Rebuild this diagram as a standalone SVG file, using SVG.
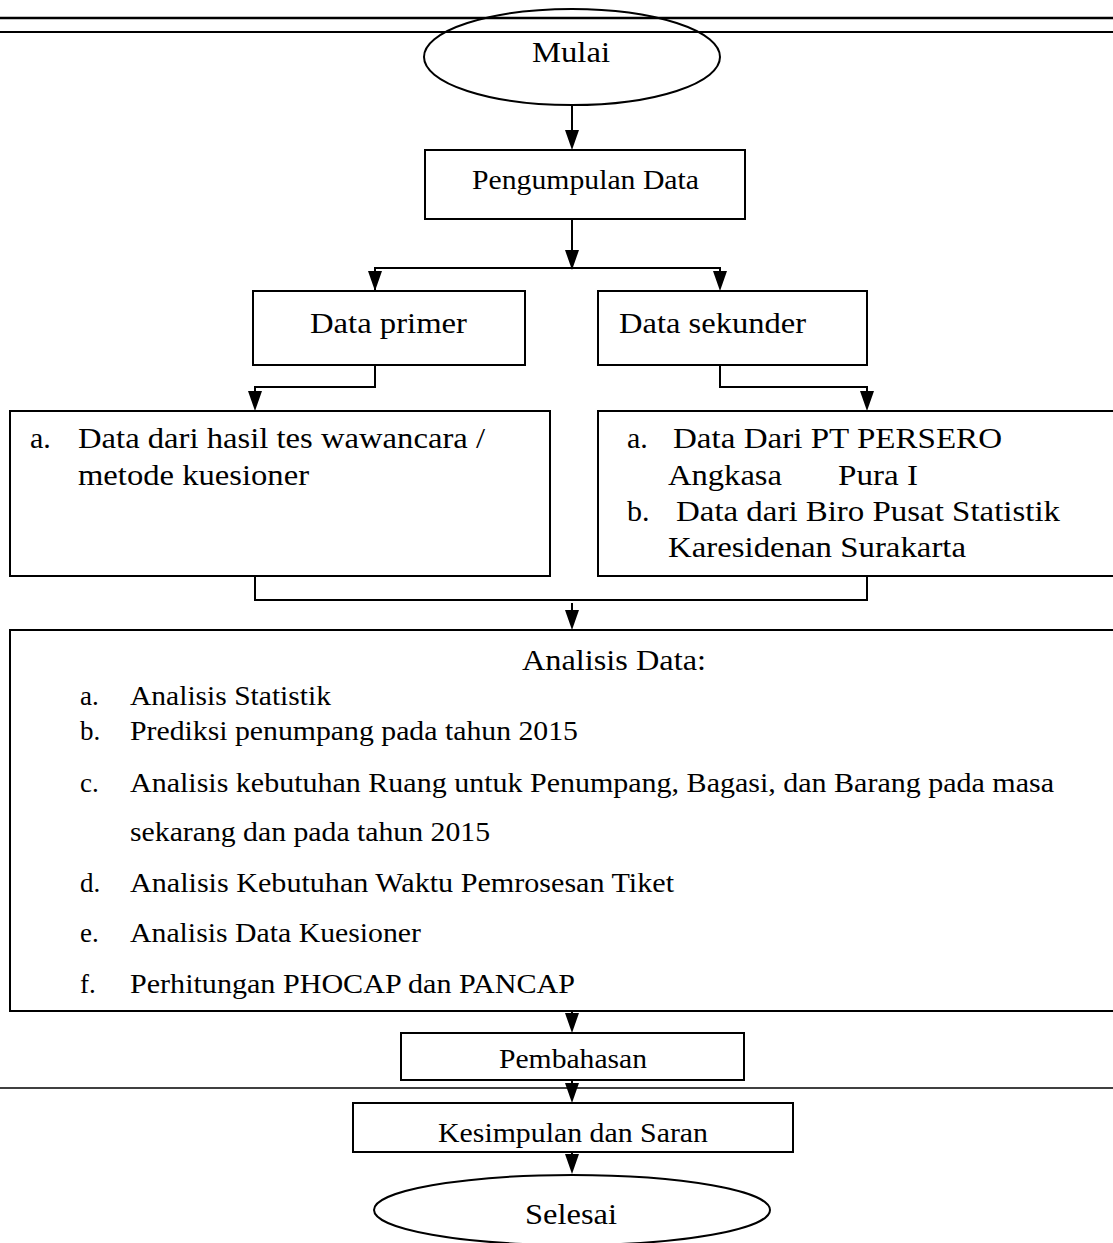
<svg xmlns="http://www.w3.org/2000/svg" width="1113" height="1243" viewBox="0 0 1113 1243">
<style>
  .box{fill:none;stroke:#000;stroke-width:2}
  .ln{fill:none;stroke:#000;stroke-width:2}
  .ah{fill:#000}
  .t{font-family:"Liberation Serif","Times New Roman",serif;font-size:30px;fill:#000}
  .s{font-family:"Liberation Serif","Times New Roman",serif;font-size:27px;fill:#000}
</style>
<rect width="1113" height="1243" fill="#fff"/>
<g id="rules">
  <line x1="0" y1="18" x2="1113" y2="18" stroke="#000" stroke-width="2.5"/>
  <line x1="0" y1="32" x2="1113" y2="32" stroke="#000" stroke-width="2"/>
  <line x1="0" y1="1088" x2="1113" y2="1088" stroke="#000" stroke-width="1.5"/>
</g>
<g id="connectors">
  <path class="ln" d="M572,105 V132"/>
  <path class="ah" d="M565,130 L579,130 L572,150 Z"/>
  <path class="ln" d="M572,219 V252"/>
  <path class="ah" d="M565,250 L579,250 L572,270 Z"/>
  <path class="ln" d="M375,290 V268 H720 V274"/>
  <path class="ah" d="M368,271 L382,271 L375,291 Z"/>
  <path class="ah" d="M713,271 L727,271 L720,291 Z"/>
  <path class="ln" d="M375,365 V387 H255 V394"/>
  <path class="ah" d="M248,391 L262,391 L255,411 Z"/>
  <path class="ln" d="M720,365 V387 H867 V394"/>
  <path class="ah" d="M860,391 L874,391 L867,411 Z"/>
  <path class="ln" d="M255,576 V600 H867 V576"/>
  <path class="ln" d="M572,603 V614"/>
  <path class="ah" d="M565,610 L579,610 L572,630 Z"/>
  <path class="ln" d="M572,1011 V1016"/>
  <path class="ah" d="M565,1013 L579,1013 L572,1033 Z"/>
  <path class="ln" d="M572,1080 V1086"/>
  <path class="ah" d="M565,1083 L579,1083 L572,1103 Z"/>
  <path class="ln" d="M572,1152 V1157"/>
  <path class="ah" d="M565,1154 L579,1154 L572,1174 Z"/>
</g>
<g id="mulai">
  <ellipse cx="572" cy="57" rx="148" ry="48" fill="none" stroke="#000" stroke-width="2"/>
  <text class="t" x="532" y="62" textLength="78" lengthAdjust="spacingAndGlyphs">Mulai</text>
</g>
<g id="pengumpulan">
  <rect class="box" x="425" y="150" width="320" height="69"/>
  <text class="s" x="472" y="189" textLength="227" lengthAdjust="spacingAndGlyphs">Pengumpulan Data</text>
</g>
<g id="primer">
  <rect class="box" x="253" y="291" width="272" height="74"/>
  <text class="t" x="310" y="333" textLength="157" lengthAdjust="spacingAndGlyphs">Data primer</text>
</g>
<g id="sekunder">
  <rect class="box" x="598" y="291" width="269" height="74"/>
  <text class="t" x="619" y="333" textLength="187" lengthAdjust="spacingAndGlyphs">Data sekunder</text>
</g>
<g id="primer-detail">
  <rect class="box" x="10" y="411" width="540" height="165"/>
  <text class="t" x="30" y="448">a.</text>
  <text class="t" x="78" y="448" textLength="407" lengthAdjust="spacingAndGlyphs">Data dari hasil tes wawancara /</text>
  <text class="t" x="78" y="485" textLength="231" lengthAdjust="spacingAndGlyphs">metode kuesioner</text>
</g>
<g id="sekunder-detail">
  <path class="box" d="M1113,411 H598 V576 H1113"/>
  <text class="t" x="627" y="448">a.</text>
  <text class="t" x="673" y="448" textLength="329" lengthAdjust="spacingAndGlyphs">Data Dari PT PERSERO</text>
  <text class="t" x="668" y="485" textLength="114" lengthAdjust="spacingAndGlyphs">Angkasa</text>
  <text class="t" x="838" y="485" textLength="80" lengthAdjust="spacingAndGlyphs">Pura I</text>
  <text class="t" x="627" y="521">b.</text>
  <text class="t" x="676" y="521" textLength="384" lengthAdjust="spacingAndGlyphs">Data dari Biro Pusat Statistik</text>
  <text class="t" x="668" y="557" textLength="298" lengthAdjust="spacingAndGlyphs">Karesidenan Surakarta</text>
</g>
<g id="analisis">
  <path class="box" d="M1113,630 H10 V1011 H1113"/>
  <text class="t" x="522" y="670" textLength="184" lengthAdjust="spacingAndGlyphs">Analisis Data:</text>
  <text class="s" x="80" y="705">a.</text>
  <text class="s" x="130" y="705" textLength="201" lengthAdjust="spacingAndGlyphs">Analisis Statistik</text>
  <text class="s" x="80" y="740">b.</text>
  <text class="s" x="130" y="740" textLength="448" lengthAdjust="spacingAndGlyphs">Prediksi penumpang pada tahun 2015</text>
  <text class="s" x="80" y="792">c.</text>
  <text class="s" x="130" y="792" textLength="924" lengthAdjust="spacingAndGlyphs">Analisis kebutuhan Ruang untuk Penumpang, Bagasi, dan Barang pada masa</text>
  <text class="s" x="130" y="841" textLength="360" lengthAdjust="spacingAndGlyphs">sekarang dan pada tahun 2015</text>
  <text class="s" x="80" y="892">d.</text>
  <text class="s" x="130" y="892" textLength="544" lengthAdjust="spacingAndGlyphs">Analisis Kebutuhan Waktu Pemrosesan Tiket</text>
  <text class="s" x="80" y="942">e.</text>
  <text class="s" x="130" y="942" textLength="291" lengthAdjust="spacingAndGlyphs">Analisis Data Kuesioner</text>
  <text class="s" x="80" y="993">f.</text>
  <text class="s" x="130" y="993" textLength="445" lengthAdjust="spacingAndGlyphs">Perhitungan PHOCAP dan PANCAP</text>
</g>
<g id="pembahasan">
  <rect class="box" x="401" y="1033" width="343" height="47"/>
  <text class="s" x="499" y="1068" textLength="148" lengthAdjust="spacingAndGlyphs">Pembahasan</text>
</g>
<g id="kesimpulan">
  <rect class="box" x="353" y="1103" width="440" height="49"/>
  <text class="s" x="438" y="1142" textLength="270" lengthAdjust="spacingAndGlyphs">Kesimpulan dan Saran</text>
</g>
<g id="selesai">
  <ellipse cx="572" cy="1210" rx="198" ry="35" fill="none" stroke="#000" stroke-width="2"/>
  <text class="t" x="525" y="1224" textLength="92" lengthAdjust="spacingAndGlyphs">Selesai</text>
</g>
</svg>
